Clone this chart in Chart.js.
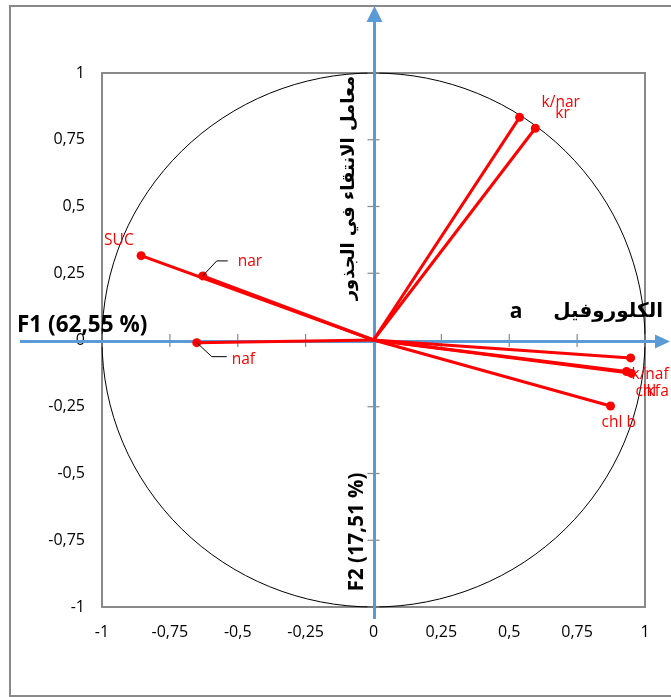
<!DOCTYPE html>
<html><head><meta charset="utf-8">
<script src="https://cdn.jsdelivr.net/npm/chart.js@4.4.0/dist/chart.umd.min.js"></script>
<style>html,body{margin:0;padding:0;background:#fff;overflow:hidden}canvas{display:block}</style>
</head><body>
<canvas id="c" width="671" height="697"></canvas>
<script>
// ---- data ----
const variables = ['k/nar','kr','SUC','nar','naf','kf','k/naf','chl a','chl b'];
const f1Coords  = [0.538, 0.596, -0.856, -0.629, -0.651, 0.947, 0.932, 0.950, 0.873];
const f2Coords  = [0.834, 0.793,  0.316,  0.240, -0.010, -0.067, -0.118, -0.125, -0.247];
const tickValues = [-1, -0.75, -0.5, -0.25, 0, 0.25, 0.5, 0.75, 1];
const axisTitleF1 = 'F1 (62,55 %)';
const axisTitleF2 = 'F2 (17,51 %)';
const titleXArabic = 'الكلوروفيل';
const titleXLatin = 'a';
const titleYArabic = 'معامل الانتقاء في الجذور';

// ---- label placement (pixel offsets from each point) ----
const labelOffsets = {
  'k/nar':[22,-15], 'kr':[20,-15], 'SUC':[-37,-15], 'nar':[35,-14], 'naf':[35,17],
  'kf':[16,34], 'k/naf':[5,3], 'chl a':[4,18], 'chl b':[-9,17]
};
const leaders = { 'nar':[[0,0],[14,-15],[25,-15]], 'naf':[[0,0],[15,14],[30,14]] };

const fmt = v => String(v).replace('.', ',');
const RED = '#ff0000', BLUE = '#5b9bd5', GREY = '#898989';

const datasets = variables.map((name, i) => ({
  label: name,
  data: [{x:0, y:0}, {x:f1Coords[i], y:f2Coords[i]}],
  showLine: true,
  borderColor: RED,
  borderWidth: 3,
  pointRadius: [0, 4.5],
  pointBackgroundColor: RED,
  pointBorderWidth: 0,
  clip: false
}));

const decor = {
  id: 'decor',
  beforeDraw(chart) {
    const ctx = chart.ctx;
    ctx.save();
    ctx.fillStyle = '#fff';
    ctx.fillRect(0, 0, chart.width, chart.height);
    ctx.strokeStyle = GREY; ctx.lineWidth = 2;
    ctx.strokeRect(10, 6, 700, 690);
    ctx.restore();
  },
  beforeDatasetsDraw(chart) {
    const {ctx, chartArea: a, scales: {x, y}} = chart;
    const x0 = x.getPixelForValue(0), y0 = y.getPixelForValue(0);
    ctx.save();
    ctx.strokeStyle = GREY; ctx.lineWidth = 2;
    ctx.strokeRect(a.left, a.top, a.right - a.left, a.bottom - a.top);
    const rx = x.getPixelForValue(1) - x0, ry = y0 - y.getPixelForValue(1);
    ctx.strokeStyle = '#000'; ctx.lineWidth = 1;
    ctx.beginPath(); ctx.ellipse(x0, y0, rx, ry, 0, 0, Math.PI * 2); ctx.stroke();
    ctx.strokeStyle = GREY; ctx.lineWidth = 1.2;
    tickValues.forEach(v => {
      const px = x.getPixelForValue(v), py = y.getPixelForValue(v);
      ctx.beginPath(); ctx.moveTo(px, y0 - 6); ctx.lineTo(px, y0 + 7); ctx.stroke();
      ctx.beginPath(); ctx.moveTo(x0 - 6, py); ctx.lineTo(x0 + 6, py); ctx.stroke();
    });
    ctx.strokeStyle = BLUE; ctx.fillStyle = BLUE; ctx.lineWidth = 3;
    const hy = y0 + 1.5, vx = x0 + 1;
    ctx.beginPath(); ctx.moveTo(20, hy); ctx.lineTo(656, hy); ctx.stroke();
    ctx.beginPath(); ctx.moveTo(670, hy); ctx.lineTo(655, hy - 7); ctx.lineTo(655, hy + 7); ctx.closePath(); ctx.fill();
    ctx.beginPath(); ctx.moveTo(vx, 619); ctx.lineTo(vx, 20); ctx.stroke();
    ctx.beginPath(); ctx.moveTo(vx, 6); ctx.lineTo(vx - 8, 22); ctx.lineTo(vx + 8, 22); ctx.closePath(); ctx.fill();
    ctx.restore();
  },
  afterDatasetsDraw(chart) {
    const {ctx, scales: {x, y}} = chart;
    ctx.save();
    ctx.strokeStyle = '#000'; ctx.lineWidth = 1;
    variables.forEach((name, i) => {
      const L = leaders[name]; if (!L) return;
      const px = x.getPixelForValue(f1Coords[i]), py = y.getPixelForValue(f2Coords[i]);
      ctx.beginPath();
      L.forEach((p, k) => k ? ctx.lineTo(px + p[0], py + p[1]) : ctx.moveTo(px + p[0], py + p[1]));
      ctx.stroke();
    });
    ctx.fillStyle = RED; ctx.font = '15.5px "Open Sans"'; ctx.textBaseline = 'middle'; ctx.textAlign = 'left';
    variables.forEach((name, i) => {
      const o = labelOffsets[name];
      const px = x.getPixelForValue(f1Coords[i]), py = y.getPixelForValue(f2Coords[i]);
      ctx.fillText(name, px + o[0], py + o[1]);
    });
    ctx.fillStyle = '#000';
    ctx.font = 'bold 22.5px "Open Sans"';
    ctx.textAlign = 'left'; ctx.textBaseline = 'middle';
    ctx.fillText(axisTitleF1, 17, 326);
    ctx.font = 'bold 20px "DejaVu Sans"';
    ctx.textAlign = 'right';
    ctx.fillText(titleXArabic, 663, 312);
    ctx.font = 'bold 21px "Open Sans"';
    ctx.textAlign = 'center';
    ctx.fillText(titleXLatin, 516, 312);
    ctx.save();
    ctx.translate(357, 532); ctx.rotate(-Math.PI / 2);
    ctx.font = 'bold 20.5px "Open Sans"'; ctx.textAlign = 'center';
    ctx.fillText(axisTitleF2, 0, 0);
    ctx.restore();
    ctx.save();
    ctx.translate(349, 188); ctx.rotate(-Math.PI / 2);
    ctx.font = 'bold 18px "DejaVu Sans"'; ctx.textAlign = 'center';
    ctx.fillText(titleYArabic, 0, 0);
    ctx.restore();
    ctx.restore();
  }
};

new Chart(document.getElementById('c'), {
  type: 'scatter',
  data: { datasets },
  options: {
    responsive: false, animation: false, devicePixelRatio: 1,
    layout: { padding: { top: 73, right: 26, left: 0, bottom: 0 } },
    plugins: { legend: { display: false }, tooltip: { enabled: false } },
    scales: {
      x: {
        type: 'linear', min: -1, max: 1,
        afterBuildTicks: s => { s.ticks = tickValues.map(v => ({value: v})); },
        ticks: { callback: fmt, color: '#000', font: { family: 'Open Sans', size: 16 }, padding: 16, maxRotation: 0, autoSkip: false },
        grid: { display: false, drawTicks: false }, border: { display: false },
        afterFit: s => { s.height = 90; }
      },
      y: {
        type: 'linear', min: -1, max: 1,
        afterBuildTicks: s => { s.ticks = tickValues.map(v => ({value: v})); },
        ticks: { callback: fmt, color: '#000', font: { family: 'Open Sans', size: 16 }, padding: 17, autoSkip: false },
        grid: { display: false, drawTicks: false }, border: { display: false },
        afterFit: s => { s.width = 102; }
      }
    }
  },
  plugins: [decor]
});
</script>
</body></html>
